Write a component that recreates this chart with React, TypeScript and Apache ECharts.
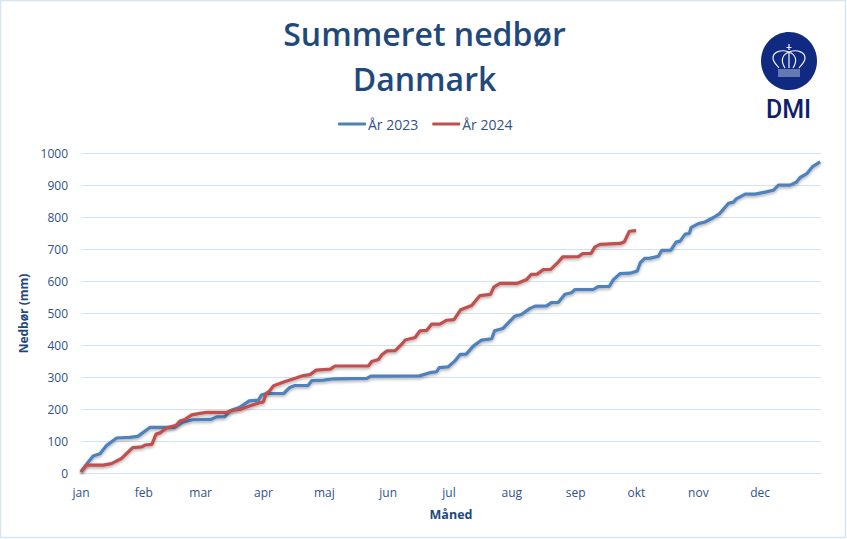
import React, { useEffect, useRef } from "react";
import * as echarts from "echarts";

const titleLines = "Summeret nedbør\nDanmark";
const seriesNames = ["År 2023", "År 2024"];
const monthNames = ["jan", "feb", "mar", "apr", "maj", "jun", "jul", "aug", "sep", "okt", "nov", "dec"];
const monthStarts = [0, 31, 59, 90, 120, 151.5, 181.5, 212.5, 244, 274, 304.5, 335];

const days2023 = [0, 3.6, 6, 9.4, 12.7, 17.6, 24, 28, 34, 46, 50, 55, 64, 67, 71, 73.5, 78, 83, 87.5, 89, 91.6, 100, 103, 105.6, 112, 113.8, 119.6, 125, 141, 143, 167, 172, 175.4, 176.7, 181, 184.5, 187, 190, 193.5, 197.6, 202.6, 204, 208, 214, 217, 221.5, 224, 229.7, 232, 235.5, 238.7, 242, 243.7, 252.7, 255, 260.6, 262.6, 266, 270.8, 274.4, 275.8, 278, 280.7, 284.8, 286.4, 291, 293.5, 295.5, 298, 300, 301, 304.5, 307.8, 312, 315, 319.3, 321.8, 323.4, 327.6, 332.5, 338, 341.5, 344, 349.8, 353, 354.7, 358, 361, 364.6];
const values2023 = [5, 36, 55, 62, 88, 111, 113, 116, 144, 144, 160, 168, 169, 177, 178, 196, 206, 227, 229, 245, 250, 250, 269, 275, 275, 290, 292, 296, 297, 304, 305, 315, 318, 331, 333, 352, 372, 373, 398, 417, 421, 446, 453, 492, 496, 516, 523, 524, 534, 535, 560, 565, 575, 575, 584, 585, 606, 625, 626, 633, 658, 672, 673, 679, 697, 698, 723, 726, 748, 750, 769, 781, 786, 800, 812, 844, 848, 859, 873, 873, 880, 885, 901, 901, 911, 925, 937, 960, 974];

const days2024 = [0, 2.5, 11, 15, 20, 23.4, 25.5, 30, 31.6, 35, 37, 39, 42.3, 47, 48.8, 51.3, 54.6, 58.7, 62, 71.9, 75, 78.5, 81.7, 88, 90, 91.3, 93, 95, 100, 106.4, 109.7, 113, 116, 123, 125.3, 141.8, 143.4, 146.7, 148.4, 150.8, 155, 158.2, 159.9, 164.8, 167.2, 170.5, 173, 177, 180.4, 184, 187.3, 192.7, 196.8, 202, 203.7, 206.7, 215, 219.8, 222, 225, 228, 231.7, 235, 237.6, 245.3, 247.5, 251.6, 253.5, 256, 266, 268, 270.5, 273.8];
const values2024 = [5, 26, 26, 31, 47, 68, 81, 83, 89, 91, 123, 127, 143, 151, 164, 169, 183, 188, 191, 191, 198, 200, 208, 221, 224, 250, 258, 274, 286, 299, 306, 309, 323, 326, 336, 336, 350, 356, 371, 383, 384, 404, 417, 425, 446, 447, 467, 467, 479, 481, 512, 525, 556, 560, 583, 594, 594, 606, 622, 623, 637, 638, 658, 677, 678, 687, 688, 708, 716, 719, 724, 757, 759];

const pairs = (xs: number[], ys: number[]) => xs.map((x, i) => [x, ys[i]]);

const crownPath =
  "M789 52 L789 68 M785 68 C781 62 781 55 789 52 C797 55 797 62 793 68 " +
  "M779 68 C776 64 773 62 773 58 C773 52 781 49 789 52 C797 49 805 52 805 58 C805 62 802 64 799 68 " +
  "M789 44 L789 50 M786.5 47.5 L791.5 47.5";
echarts.graphic.registerShape("dmiCrownPath", echarts.graphic.extendPath(crownPath, {}) as any);

export default function App() {
  const ref = useRef<HTMLDivElement>(null);
  useEffect(() => {
    if (!ref.current) return;
    const chart = echarts.init(ref.current, undefined, { renderer: "svg" });
    const font = "'Open Sans', sans-serif";
    const mkSeries = (name: string, data: number[][], color: string) => ({
      name,
      type: "line",
      data,
      showSymbol: false,
      symbol: "none",
      smooth: false,
      lineStyle: { color, width: 3.2, shadowColor: "rgba(0,0,0,0.35)", shadowBlur: 3, shadowOffsetY: 1.5 },
      itemStyle: { color },
    });
    chart.setOption({
      animation: false,
      backgroundColor: "#ffffff",
      textStyle: { fontFamily: font },
      title: {
        text: titleLines,
        left: 419.5,
        top: 6,
        textAlign: "center",
        textStyle: { fontFamily: font, fontSize: 32, fontWeight: 600, color: "#1F497D", lineHeight: 45 },
      },
      legend: {
        data: seriesNames,
        left: 338,
        top: 117,
        padding: 0,
        itemWidth: 28,
        itemHeight: 3,
        itemGap: 14,
        icon: "roundRect",
        textStyle: { fontFamily: font, fontSize: 14, color: "#2F5288", padding: [0, 0, 0, -3] },
      },
      grid: { left: 81, right: 26, top: 153.5, bottom: 65.5 },
      xAxis: {
        type: "value",
        min: 0,
        max: 365,
        name: "Måned",
        nameLocation: "middle",
        nameGap: 34,
        nameTextStyle: { fontFamily: font, fontSize: 12.5, fontWeight: "bold", color: "#1F497D" },
        axisLine: { show: true, lineStyle: { color: "#D4E1EE", width: 1 } },
        axisTick: { show: false },
        splitLine: { show: false },
        axisLabel: {
          customValues: monthStarts,
          formatter: (v: number) => monthNames[monthStarts.indexOf(v)] ?? "",
          margin: 13,
          fontFamily: font,
          fontSize: 12,
          color: "#2F5288",
        },
      },
      yAxis: {
        type: "value",
        min: 0,
        max: 1000,
        interval: 100,
        name: "Nedbør (mm)",
        nameLocation: "middle",
        nameGap: 45,
        nameTextStyle: { fontFamily: font, fontSize: 12, fontWeight: "bold", color: "#1F497D" },
        axisLine: { show: false },
        axisTick: { show: false },
        splitLine: { show: true, lineStyle: { color: "#D4E1EE", width: 1 } },
        axisLabel: { margin: 13, fontFamily: font, fontSize: 12, color: "#2F5288", formatter: (v: number) => String(v) },
      },
      series: [
        mkSeries(seriesNames[0], pairs(days2023, values2023), "#4F81BD"),
        mkSeries(seriesNames[1], pairs(days2024, values2024), "#C0504D"),
      ],
      graphic: [
        { type: "rect", silent: true, z: 0, shape: { x: 0.5, y: 0.5, width: 845, height: 537 }, style: { fill: "none", stroke: "#D6E5F4", lineWidth: 1.5 } },
        { type: "ellipse", silent: true, shape: { cx: 789, cy: 61, rx: 28, ry: 29 }, style: { fill: "#0F2A80" } },
        { type: "dmiCrownPath", silent: true, x: 0, y: 0, style: { fill: "none", stroke: "#F2F4FA", lineWidth: 1.2 } },
        ...[70, 72, 74, 76].map((y) => ({ type: "line", silent: true, shape: { x1: 778, y1: y, x2: 800, y2: y }, style: { stroke: "#BCC7E2", lineWidth: 1 } })),
        { type: "text", silent: true, x: 788.5, y: 109.5, style: { text: "DMI", fontFamily: "Roboto, 'Liberation Sans', sans-serif", fontSize: 25, fontWeight: 500, fill: "#0F1F6E", textAlign: "center", textVerticalAlign: "middle" } },
      ],
    });
    return () => chart.dispose();
  }, []);
  return <div ref={ref} style={{ position: "absolute", left: 0, top: 0, width: 847, height: 539 }} />;
}
